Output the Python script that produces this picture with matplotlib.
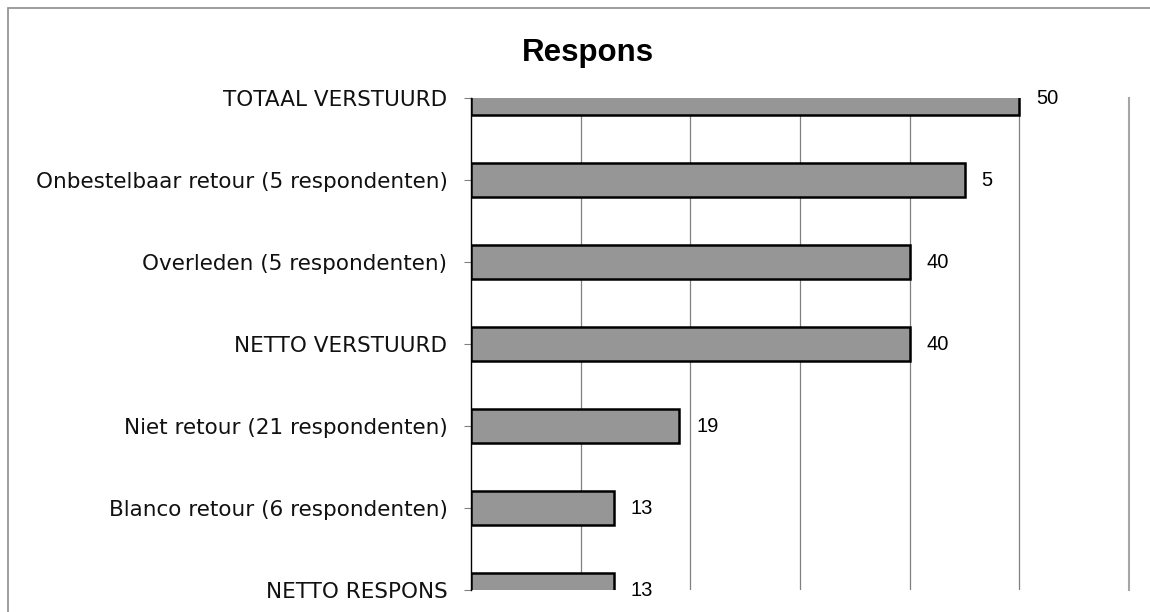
#respons chart, horizontal bars
import matplotlib.pyplot as plt
from matplotlib.patches import Rectangle

categories = ["TOTAAL VERSTUURD",
              "Onbestelbaar retour (5 respondenten)",
              "Overleden (5 respondenten)",
              "NETTO VERSTUURD",
              "Niet retour (21 respondenten)",
              "Blanco retour (6 respondenten)",
              "NETTO RESPONS"]
bar_values = [50, 45, 40, 40, 19, 13, 13]
value_labels = ["50", "5", "40", "40", "19", "13", "13"]
grid_ticks = [10, 20, 30, 40, 50]

W, H = 1150, 612
fig = plt.figure(figsize=(W/100, H/100), dpi=100)
fig.patches.append(Rectangle((8/W, -0.1), 1.2, 1 - 8/H + 0.1, transform=fig.transFigure,
                             fill=False, edgecolor='#8c8c8c', lw=1.2))
ax = fig.add_axes([471/W, 1 - 590/H, (1129 - 471)/W, (590 - 98)/H])

ypos = list(range(len(categories)))
ax.barh(ypos, bar_values, height=0.41, color='#969696', edgecolor='black', linewidth=1.8, zorder=3)
ax.set_ylim(len(categories) - 1, 0)
ax.set_xlim(0, 60)

for y, v, t in zip(ypos, bar_values, value_labels):
    ax.annotate(t, (v, y), xytext=(12, 0), textcoords='offset points', va='center', ha='left',
                fontsize=14.5, family='Liberation Sans', annotation_clip=False)

ax.set_xticks(grid_ticks)
ax.xaxis.grid(True, color='#808080', linewidth=0.9)
ax.tick_params(axis='x', length=0, labelbottom=False)
ax.set_yticks(ypos)
ax.set_yticklabels(categories, fontsize=15.5, family='DejaVu Sans', color='#111111')
ax.tick_params(axis='y', length=5, color='#808080', pad=12)
for s in ['top', 'bottom']:
    ax.spines[s].set_visible(False)
ax.spines['left'].set_color('black')
ax.spines['left'].set_linewidth(1.0)
ax.spines['right'].set_color('#a6a6a6')
ax.spines['right'].set_linewidth(1.5)

fig.text(588/W, 1 - 53/H, 'Respons', ha='center', va='center', fontsize=22.5,
         fontweight='bold', family='Liberation Sans')

plt.savefig('out.png', dpi=100)
